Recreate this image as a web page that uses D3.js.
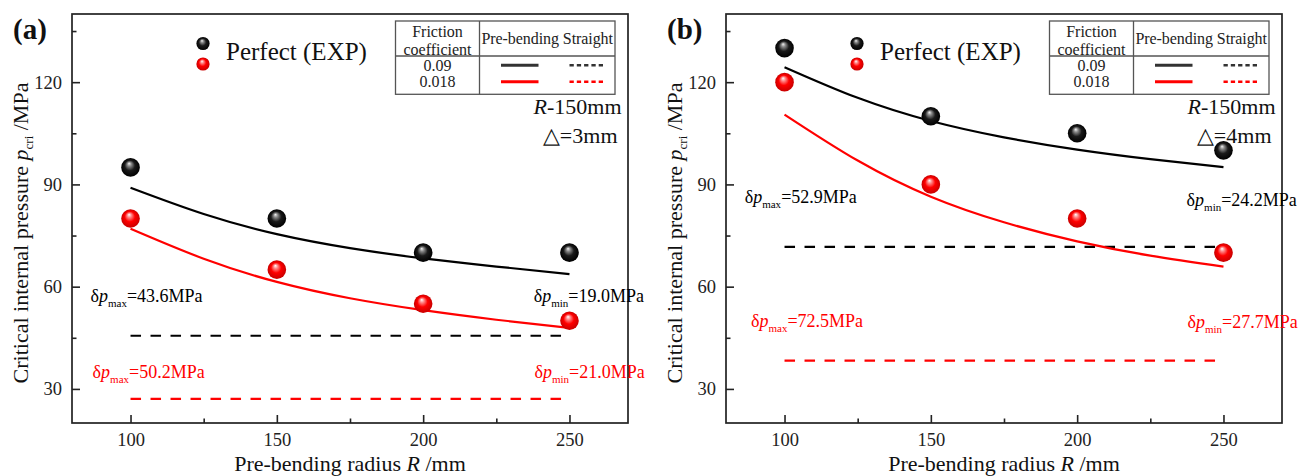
<!DOCTYPE html>
<html>
<head>
<meta charset="utf-8">
<script src="https://cdn.jsdelivr.net/npm/d3@7"></script>
<style>
  body { margin: 0; background: #fff; }
  svg { display: block; font-family: "Liberation Serif", "Times New Roman", serif; }
</style>
</head>
<body>
<div id="chart"></div>
<script>
// chart values
const xTicks = [100, 150, 200, 250];
const xMinor = [125, 175, 225];
const yTicks = [30, 60, 90, 120];
const yMinor = [45, 75, 105, 135];

const radiusExp = [100, 150, 200, 250];
const expA_high = [95, 80, 70, 70];     // friction 0.09
const expA_low = [80, 65, 55, 50];      // friction 0.018
const expB_high = [130, 110, 105, 100];
const expB_low = [120, 90, 80, 70];

const radiusFit = [100, 125, 150, 175, 200, 225, 250];
const fitA_high = [89.0, 81.3, 75.4, 71.3, 68.3, 65.9, 63.7];
const fitA_low = [77.0, 68.2, 61.4, 56.6, 53.1, 50.3, 47.9];
const fitB_high = [124.4, 115.4, 108.6, 103.8, 100.2, 97.4, 95.1];
const fitB_low = [110.5, 97.0, 86.4, 78.9, 73.3, 69.1, 65.9];

const straightRange = [100, 248];
const straightA = [45.6, 27.1];
const straightB = [71.7, 38.3];

const frictionLabels = ['0.09', '0.018'];
const deltaMaxA = ['43.6', '50.2'];
const deltaMinA = ['19.0', '21.0'];
const deltaMaxB = ['52.9', '72.5'];
const deltaMinB = ['24.2', '27.7'];
const panelLetters = ['(a)', '(b)'];
const gapLabels = ['△=3mm', '△=4mm'];

const colors = ['#000', '#ff0000'];

const width = 1311, height = 476;
const plotTop = 14, plotW = 556, plotH = 409;

const svg = d3.select('#chart').append('svg')
    .attr('width', width)
    .attr('height', height);

// sphere gradients for the experiment markers
const defs = svg.append('defs');
const gBlack = defs.append('radialGradient').attr('id', 'ballBlack')
    .attr('cx', '50%').attr('cy', '50%').attr('r', '50%').attr('fx', '42%').attr('fy', '28%');
gBlack.append('stop').attr('offset', '0%').attr('stop-color', '#f4f4f4');
gBlack.append('stop').attr('offset', '22%').attr('stop-color', '#8a8a8a');
gBlack.append('stop').attr('offset', '55%').attr('stop-color', '#1a1a1a');
gBlack.append('stop').attr('offset', '100%').attr('stop-color', '#000');
const gRed = defs.append('radialGradient').attr('id', 'ballRed')
    .attr('cx', '50%').attr('cy', '50%').attr('r', '50%').attr('fx', '42%').attr('fy', '28%');
gRed.append('stop').attr('offset', '0%').attr('stop-color', '#ffffff');
gRed.append('stop').attr('offset', '22%').attr('stop-color', '#ff8c8c');
gRed.append('stop').attr('offset', '55%').attr('stop-color', '#ff0000');
gRed.append('stop').attr('offset', '100%').attr('stop-color', '#c80000');
const balls = ['url(#ballBlack)', 'url(#ballRed)'];

const panels = [
  { left: 72, exp: [expA_high, expA_low], fit: [fitA_high, fitA_low], straight: straightA,
    dmax: deltaMaxA, dmin: deltaMinA,
    maxPos: [[18.5, 302], [20.6, 378]], minPos: [[461.7, 302], [462.5, 378]] },
  { left: 726, exp: [expB_high, expB_low], fit: [fitB_high, fitB_low], straight: straightB,
    dmax: deltaMaxB, dmin: deltaMinB,
    maxPos: [[18.7, 203], [25, 326.5]], minPos: [[460.6, 205.5], [461.5, 328]] }
];

panels.forEach((p, i) => drawPanel(p, i));

function drawPanel(p, idx) {
  const x = d3.scaleLinear().domain([80, 270]).range([p.left, p.left + plotW]);
  const y = d3.scaleLinear().domain([20, 140]).range([plotTop + plotH, plotTop]);
  const g = svg.append('g');

  // axes, ticks pointing inward
  g.append('g')
      .attr('transform', `translate(0,${plotTop + plotH})`)
      .call(d3.axisBottom(x).tickValues(xTicks).tickSizeInner(-8).tickSizeOuter(0).tickPadding(10));
  g.append('g')
      .attr('transform', `translate(0,${plotTop + plotH})`)
      .call(d3.axisBottom(x).tickValues(xMinor).tickSizeInner(-4.5).tickSizeOuter(0).tickFormat(''));
  g.append('g')
      .attr('transform', `translate(${p.left},0)`)
      .call(d3.axisLeft(y).tickValues(yTicks).tickSizeInner(-8).tickSizeOuter(0).tickPadding(10));
  g.append('g')
      .attr('transform', `translate(${p.left},0)`)
      .call(d3.axisLeft(y).tickValues(yMinor).tickSizeInner(-4.5).tickSizeOuter(0).tickFormat(''));
  g.selectAll('.domain').remove();
  g.selectAll('.tick line').attr('stroke', '#222').attr('stroke-width', 1.6);
  g.selectAll('.tick text')
      .attr('font-family', 'Liberation Serif')
      .attr('font-size', 18.5)
      .attr('fill', '#222');

  // frame
  g.append('rect')
      .attr('x', p.left).attr('y', plotTop)
      .attr('width', plotW).attr('height', plotH)
      .attr('fill', 'none')
      .attr('stroke', '#222')
      .attr('stroke-width', 1.7);

  // axis titles
  g.append('text')
      .attr('x', p.left + plotW / 2).attr('y', 471)
      .attr('text-anchor', 'middle')
      .attr('font-size', 22)
      .attr('fill', '#111')
      .call(t => {
        t.append('tspan').text('Pre-bending radius ');
        t.append('tspan').attr('font-style', 'italic').text('R');
        t.append('tspan').text(' /mm');
      });

  g.append('text')
      .attr('transform', `translate(${p.left - 44},${233}) rotate(-90)`)
      .attr('text-anchor', 'middle')
      .attr('font-size', 22)
      .attr('fill', '#111')
      .call(t => {
        t.append('tspan').text('Critical internal pressure ');
        t.append('tspan').attr('font-style', 'italic').text('p');
        t.append('tspan').attr('font-size', 13).attr('dy', 5).text('cri');
        t.append('tspan').attr('dy', -5).text(' /MPa');
      });

  // panel letter
  g.append('text')
      .attr('x', p.left - 59).attr('y', 39)
      .attr('font-size', 29)
      .attr('font-weight', 'bold')
      .attr('fill', '#111')
      .text(panelLetters[idx]);

  // straight pipe results (dashed)
  p.straight.forEach((v, k) => {
    g.append('path')
        .datum(straightRange)
        .attr('fill', 'none')
        .attr('stroke', colors[k])
        .attr('stroke-width', 2.2)
        .attr('stroke-dasharray', '10.5,9.5')
        .attr('d', d3.line().x(d => x(d)).y(() => y(v)));
  });

  // pre-bending fitted curves
  const line = d3.line()
      .x((d, j) => x(radiusFit[j]))
      .y(d => y(d))
      .curve(d3.curveNatural);
  p.fit.forEach((vals, k) => {
    g.append('path')
        .datum(vals)
        .attr('fill', 'none')
        .attr('stroke', colors[k])
        .attr('stroke-width', 2.2)
        .attr('d', line);
  });

  // experiment points
  p.exp.forEach((vals, k) => {
    g.append('g')
      .selectAll('circle')
      .data(vals)
      .enter()
      .append('circle')
        .attr('cx', (d, j) => x(radiusExp[j]))
        .attr('cy', d => y(d))
        .attr('r', 9.3)
        .attr('fill', balls[k]);
  });

  // delta annotations
  const annot = (pos, sub, val, color) => {
    g.append('text')
        .attr('x', p.left + pos[0]).attr('y', pos[1])
        .attr('font-size', 18)
        .attr('fill', color)
        .call(t => {
          t.append('tspan').text('δ');
          t.append('tspan').attr('font-style', 'italic').text('p');
          t.append('tspan').attr('font-size', 11).attr('dy', 5).text(sub);
          t.append('tspan').attr('dy', -5).text(`=${val}MPa`);
        });
  };
  p.dmax.forEach((v, k) => annot(p.maxPos[k], 'max', v, colors[k]));
  p.dmin.forEach((v, k) => annot(p.minPos[k], 'min', v, colors[k]));

  // legend: experiment spheres
  [43.5, 64].forEach((cy, k) => {
    g.append('circle')
        .attr('cx', p.left + 131).attr('cy', cy)
        .attr('r', 6.6)
        .attr('fill', balls[k]);
  });
  g.append('text')
      .attr('x', p.left + 154).attr('y', 60)
      .attr('font-size', 25)
      .attr('fill', '#111')
      .text('Perfect (EXP)');

  // legend table
  const tw = 219.5, c1 = 84, tTop = 21, tMid = 56, tBot = 94.3;
  const tx = p.left + plotW - 13 - tw;
  const tg = g.append('g');
  tg.append('rect')
      .attr('x', tx).attr('y', tTop)
      .attr('width', tw).attr('height', tBot - tTop)
      .attr('fill', '#fff')
      .attr('stroke', '#555')
      .attr('stroke-width', 1.3);
  tg.append('line')
      .attr('x1', tx).attr('x2', tx + tw)
      .attr('y1', tMid).attr('y2', tMid)
      .attr('stroke', '#555').attr('stroke-width', 1.3);
  tg.append('line')
      .attr('x1', tx + c1).attr('x2', tx + c1)
      .attr('y1', tTop).attr('y2', tBot)
      .attr('stroke', '#555').attr('stroke-width', 1.3);

  const tText = (tx0, ty, s) => tg.append('text')
      .attr('x', tx0).attr('y', ty)
      .attr('text-anchor', 'middle')
      .attr('font-size', 16)
      .attr('fill', '#222')
      .text(s);
  tText(tx + c1 / 2, 37, 'Friction');
  tText(tx + c1 / 2, 55, 'coefficient');
  tg.append('text')
      .attr('x', tx + c1 + 2).attr('y', 43.5)
      .attr('font-size', 16)
      .attr('fill', '#222')
      .attr('textLength', tw - c1 - 4)
      .text('Pre-bending Straight');
  frictionLabels.forEach((s, k) => {
    const ly = [65.3, 81.7][k];
    tText(tx + c1 / 2, ly + 5.5, s);
    tg.append('line')
        .attr('x1', tx + c1 + 21.5).attr('x2', tx + c1 + 59)
        .attr('y1', ly).attr('y2', ly)
        .attr('stroke', k === 0 ? '#333' : colors[k])
        .attr('stroke-width', 3);
    tg.append('line')
        .attr('x1', tx + c1 + 90).attr('x2', tx + c1 + 125)
        .attr('y1', ly).attr('y2', ly)
        .attr('stroke', k === 0 ? '#333' : colors[k])
        .attr('stroke-width', 2.6)
        .attr('stroke-dasharray', '4.3,3');
  });

  // geometry notes
  g.append('text')
      .attr('x', p.left + plotW - 6.5).attr('y', 114)
      .attr('text-anchor', 'end')
      .attr('font-size', 22)
      .attr('fill', '#111')
      .call(t => {
        t.append('tspan').attr('font-style', 'italic').text('R');
        t.append('tspan').text('-150mm');
      });
  g.append('text')
      .attr('x', p.left + plotW - 10.5).attr('y', 143)
      .attr('text-anchor', 'end')
      .attr('font-size', 22)
      .attr('fill', '#111')
      .text(gapLabels[idx]);
}
</script>
</body>
</html>
